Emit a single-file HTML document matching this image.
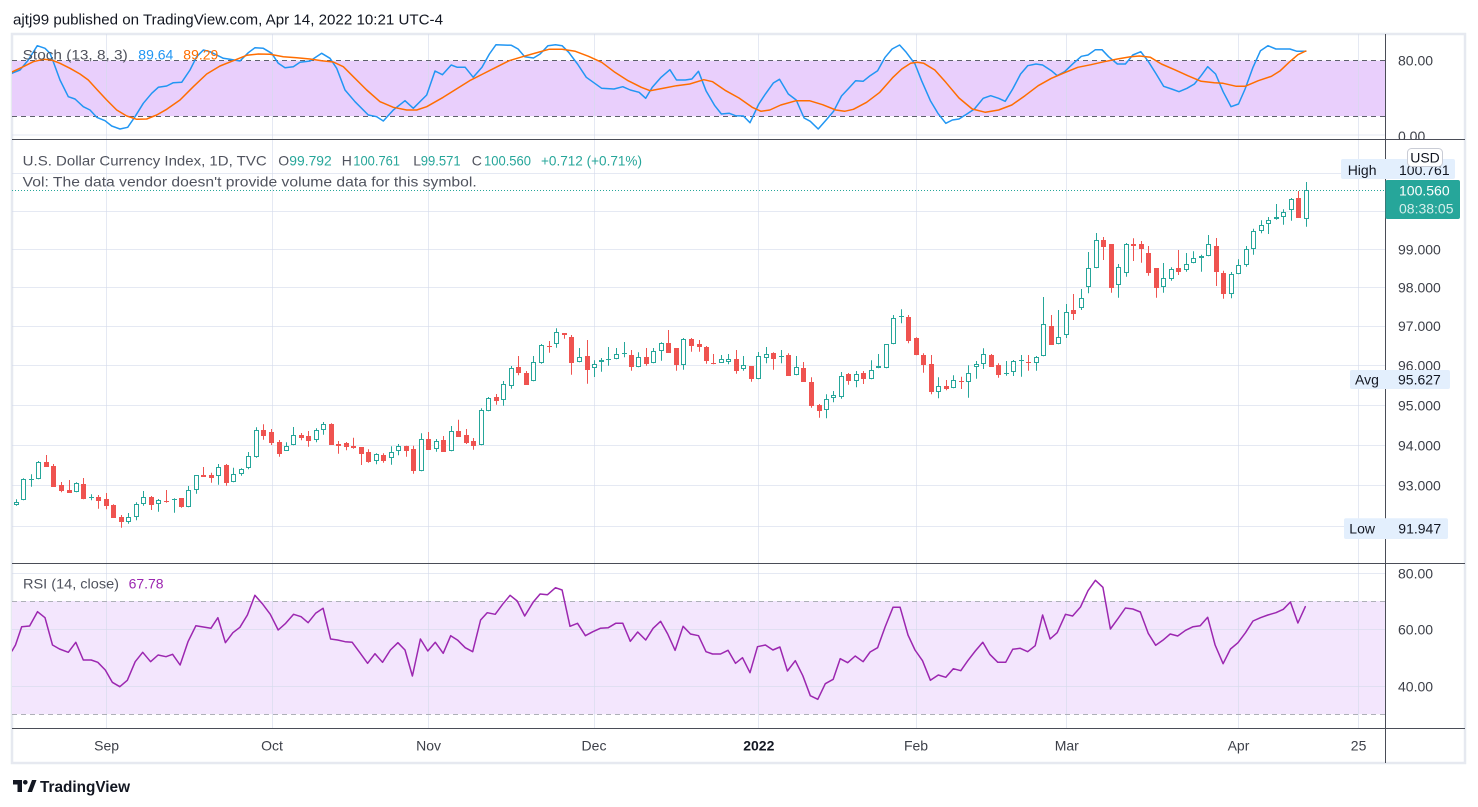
<!DOCTYPE html>
<html><head><meta charset="utf-8">
<style>
html,body{margin:0;padding:0;background:#fff;}
svg{display:block;font-family:"Liberation Sans",Arial,sans-serif;}
</style></head><body>
<svg id="c" width="1478" height="807" viewBox="0 0 1478 807" xmlns="http://www.w3.org/2000/svg">
<defs>
<clipPath id="cpStoch"><rect x="12" y="34" width="1373" height="105"/></clipPath>
<clipPath id="cpMain"><rect x="12" y="140" width="1373" height="423"/></clipPath>
<clipPath id="cpRsi"><rect x="12" y="564" width="1373" height="164"/></clipPath>
<clipPath id="cpStochAxis"><rect x="1386" y="34" width="80" height="105"/></clipPath>
</defs>
<rect width="1478" height="807" fill="#fff"/>
<text x="13" y="24.5" font-size="15" fill="#131722" textLength="430" lengthAdjust="spacingAndGlyphs">ajtj99 published on TradingView.com, Apr 14, 2022 10:21 UTC-4</text>

<!-- frame -->
<rect x="12" y="34" width="1453" height="729" fill="#fff" stroke="#e6e9f0" stroke-width="2.5"/>

<!-- bands -->
<rect x="12" y="60.7" width="1373" height="55.5" fill="#e9cffc"/>
<rect x="12" y="601" width="1373" height="113.3" fill="#f3e6fd"/>

<!-- grid -->
<g stroke="#d3dbeb" stroke-opacity="0.6" stroke-width="1">
<line x1="106.5" y1="34" x2="106.5" y2="728"/>
<line x1="272.5" y1="34" x2="272.5" y2="728"/>
<line x1="428.5" y1="34" x2="428.5" y2="728"/>
<line x1="594.5" y1="34" x2="594.5" y2="728"/>
<line x1="758.5" y1="34" x2="758.5" y2="728"/>
<line x1="916.5" y1="34" x2="916.5" y2="728"/>
<line x1="1066.5" y1="34" x2="1066.5" y2="728"/>
<line x1="1238.5" y1="34" x2="1238.5" y2="728"/>
<line x1="1358.5" y1="34" x2="1358.5" y2="728"/>
<line x1="12" y1="135" x2="1385" y2="135"/>
<line x1="12" y1="173.5" x2="1385" y2="173.5"/>
<line x1="12" y1="211.5" x2="1385" y2="211.5"/>
<line x1="12" y1="249.5" x2="1385" y2="249.5"/>
<line x1="12" y1="287.5" x2="1385" y2="287.5"/>
<line x1="12" y1="326.5" x2="1385" y2="326.5"/>
<line x1="12" y1="365.5" x2="1385" y2="365.5"/>
<line x1="12" y1="405.5" x2="1385" y2="405.5"/>
<line x1="12" y1="445.5" x2="1385" y2="445.5"/>
<line x1="12" y1="485.5" x2="1385" y2="485.5"/>
<line x1="12" y1="526.5" x2="1385" y2="526.5"/>
<line x1="12" y1="573.5" x2="1385" y2="573.5"/>
<line x1="12" y1="629.5" x2="1385" y2="629.5"/>
<line x1="12" y1="686.5" x2="1385" y2="686.5"/>
</g>

<!-- dashed band lines -->
<g stroke-dasharray="5 4" stroke-width="1">
<line x1="12" y1="60.5" x2="1385" y2="60.5" stroke="#5d606b"/>
<line x1="12" y1="116.5" x2="1385" y2="116.5" stroke="#5d606b"/>
<line x1="12" y1="601.5" x2="1385" y2="601.5" stroke="#aeb0b8"/>
<line x1="12" y1="714.5" x2="1385" y2="714.5" stroke="#aeb0b8"/>
</g>

<!-- price line -->
<line x1="12" y1="190.5" x2="1385" y2="190.5" stroke="#26a69a" stroke-width="1" stroke-dasharray="1 2"/>

<g id="stochLayer" clip-path="url(#cpStoch)"></g>
<g id="candles" clip-path="url(#cpMain)"></g>
<g id="rsiLayer" clip-path="url(#cpRsi)"></g>

<!-- separators -->
<g stroke="#4a4d57" stroke-width="1">
<line x1="12" y1="139.5" x2="1465" y2="139.5"/>
<line x1="12" y1="563.5" x2="1465" y2="563.5"/>
<line x1="12" y1="728.5" x2="1465" y2="728.5"/>
<line x1="1385.5" y1="34" x2="1385.5" y2="763"/>
</g>

<!-- legends -->
<g font-size="14">
<text x="22.7" y="59.5" fill="#50535e" textLength="105" lengthAdjust="spacingAndGlyphs">Stoch (13, 8, 3)</text>
<text x="138.3" y="59.5" fill="#2196f3" textLength="35" lengthAdjust="spacingAndGlyphs">89.64</text>
<text x="183.3" y="59.5" fill="#ff6d00" textLength="35" lengthAdjust="spacingAndGlyphs">89.29</text>

<text x="22.7" y="165.5" fill="#50535e" textLength="244" lengthAdjust="spacingAndGlyphs">U.S. Dollar Currency Index, 1D, TVC</text>
<text x="278.3" y="165.5" fill="#50535e">O</text>
<text x="289.3" y="165.5" fill="#26a69a" textLength="42.4" lengthAdjust="spacingAndGlyphs">99.792</text>
<text x="341.7" y="165.5" fill="#50535e">H</text>
<text x="353.3" y="165.5" fill="#26a69a" textLength="46.7" lengthAdjust="spacingAndGlyphs">100.761</text>
<text x="413.3" y="165.5" fill="#50535e">L</text>
<text x="420.7" y="165.5" fill="#26a69a" textLength="40" lengthAdjust="spacingAndGlyphs">99.571</text>
<text x="471.7" y="165.5" fill="#50535e">C</text>
<text x="484" y="165.5" fill="#26a69a" textLength="47" lengthAdjust="spacingAndGlyphs">100.560</text>
<text x="541" y="165.5" fill="#26a69a" textLength="101" lengthAdjust="spacingAndGlyphs">+0.712 (+0.71%)</text>
<text x="22.7" y="186.5" fill="#50535e" textLength="454" lengthAdjust="spacingAndGlyphs">Vol: The data vendor doesn't provide volume data for this symbol.</text>

<text x="23" y="588.5" fill="#50535e" textLength="96" lengthAdjust="spacingAndGlyphs">RSI (14, close)</text>
<text x="128.6" y="588.5" fill="#9c27b0" textLength="35" lengthAdjust="spacingAndGlyphs">67.78</text>
</g>

<!-- price axis labels -->
<g font-size="14" fill="#3d4049">
<g clip-path="url(#cpStochAxis)">
<text x="1398" y="65.7">80.00</text>
<text x="1398" y="141">0.00</text>
</g>
<text x="1398" y="254.3">99.000</text>
<text x="1398" y="292.3">98.000</text>
<text x="1398" y="331">97.000</text>
<text x="1398" y="370.3">96.000</text>
<text x="1398" y="410.3">95.000</text>
<text x="1398" y="450.3">94.000</text>
<text x="1398" y="490.3">93.000</text>
<text x="1398" y="578.3">80.00</text>
<text x="1398" y="634.3">60.00</text>
<text x="1398" y="691.7">40.00</text>
</g>

<!-- High label -->
<rect x="1341" y="159" width="114" height="20" rx="2" fill="#e3effd"/>
<text x="1347.7" y="175" font-size="14" fill="#131722">High</text>
<text x="1399" y="175" font-size="14" fill="#131722">100.761</text>
<!-- USD box -->
<rect x="1407.5" y="148.5" width="35" height="18" rx="4" fill="#fff" stroke="#c9ccd5"/>
<text x="1425" y="162.5" font-size="14" fill="#131722" text-anchor="middle">USD</text>
<!-- price label -->
<rect x="1385.5" y="180" width="74.5" height="39" rx="2" fill="#26a69a"/>
<text x="1399" y="195.7" font-size="14" fill="#fff">100.560</text>
<text x="1399" y="213.3" font-size="14" fill="#fff" fill-opacity="0.8">08:38:05</text>
<!-- Avg -->
<rect x="1350" y="370" width="100" height="19" rx="2" fill="#e3effd"/>
<text x="1355" y="384.5" font-size="14" fill="#131722">Avg</text>
<text x="1398" y="384.5" font-size="14" fill="#131722">95.627</text>
<!-- Low -->
<rect x="1344" y="518.3" width="104" height="20.7" rx="2" fill="#e3effd"/>
<text x="1349.3" y="533.5" font-size="14" fill="#131722">Low</text>
<text x="1398.3" y="533.5" font-size="14" fill="#131722">91.947</text>

<!-- time axis -->
<g font-size="14" fill="#3d4049" text-anchor="middle">
<text x="106.6" y="750.5">Sep</text>
<text x="272" y="750.5">Oct</text>
<text x="428.6" y="750.5">Nov</text>
<text x="594" y="750.5">Dec</text>
<text x="758.8" y="750.5" font-weight="bold" fill="#131722">2022</text>
<text x="916" y="750.5">Feb</text>
<text x="1066.8" y="750.5">Mar</text>
<text x="1238.5" y="750.5">Apr</text>
<text x="1358.6" y="750.5">25</text>
</g>

<!-- logo -->
<g fill="#131722">
<path d="M13 780 H22 V792 H17.5 V784.5 H13 Z"/>
<circle cx="25.3" cy="782.3" r="2.3"/>
<path d="M27.5 792 L32 780 H36.5 L32 792 Z"/>
</g>
<text x="40" y="792" font-size="15.5" font-weight="bold" fill="#131722" textLength="90" lengthAdjust="spacingAndGlyphs">TradingView</text>
</svg>

<script>
(function(){
var NS="http://www.w3.org/2000/svg";
function el(tag,attrs,parent){var e=document.createElementNS(NS,tag);for(var k in attrs)e.setAttribute(k,attrs[k]);parent.appendChild(e);return e;}
var cl=document.getElementById('candles');
var segs=[
[12,415,[[13,260,270,253,272,1],[34,193,256,190,256,1],[58,192,194,178,215,1],[79,142,193,138,193,1],[103,142,155,120,155,0],[124,153,215,147,215,0],[148,210,227,201,232,0],[170,225,233,195,233,0],[193,205,232,202,232,1],[214,207,251,189,253,0],[238,245,250,238,256,1],[259,246,257,240,281,0],[283,252,272,234,283,0],[304,270,308,268,308,0],[328,306,320,300,338,0],[349,307,320,294,326,1],[373,267,307,262,316,1],[394,247,268,228,272,1],[418,246,269,243,285,0],[439,256,268,252,290,1],[463,258,261,225,263,0],[485,252,256,250,293,1],[508,249,275,249,278,0],[529,226,277,213,277,1],[553,181,226,181,236,1],[574,180,185,156,185,0],[598,180,188,173,203,0],[619,157,184,147,209,1],[643,150,203,147,212,0],[664,178,202,158,202,1],[688,163,178,160,182,1],[709,124,160,111,163,1],[733,46,126,37,128,1],[754,45,62,28,74,0],[778,51,83,42,90,0],[800,81,117,75,125,0]]],
[270,320,[[48,379,393,367,393,1],[70,346,376,321,376,1],[93,345,353,339,361,0],[115,348,362,333,380,0],[139,331,361,325,367,1],[160,313,331,306,344,1],[184,312,374,310,374,0],[205,372,377,363,401,0],[229,369,380,366,391,0],[250,377,384,353,386,0],[274,381,401,381,435,0],[295,396,425,388,428,0],[319,403,424,400,433,1],[340,405,422,400,428,0],[364,397,415,379,434,1],[385,379,393,372,406,1],[409,378,392,377,410,0],[430,387,452,377,461,0],[454,358,452,340,454,1],[475,357,389,336,389,0],[499,364,386,357,395,1],[520,360,395,348,395,0],[544,334,392,318,394,1],[565,333,350,299,350,0],[589,346,368,327,372,0],[610,364,377,354,389,0],[634,271,376,265,376,1],[655,235,274,231,274,1],[679,231,242,222,254,0],[700,193,241,183,257,1],[724,145,199,138,206,1],[745,141,158,108,166,0],[769,159,194,153,194,0],[790,127,184,108,184,1]]],
[530,320,[[34,75,129,72,131,1],[56,78,82,63,98,0],[79,37,73,25,83,1],[101,40,44,40,56,0],[124,51,128,45,164,0],[146,112,127,84,127,1],[170,108,149,60,191,0],[191,133,145,121,171,1],[214,120,127,114,155,1],[235,118,121,81,137,1],[259,103,118,84,118,1],[281,99,101,66,112,1],[304,105,142,90,152,0],[325,112,142,97,142,1],[349,111,132,84,137,0],[370,94,130,84,130,1],[394,70,94,67,122,1],[415,69,98,30,98,0],[439,84,136,84,152,0],[460,58,136,54,149,1],[484,57,77,54,95,0],[506,72,80,60,95,0],[529,81,122,78,131,0],[550,129,133,102,133,0],[574,118,128,105,128,1],[595,118,127,102,133,1],[619,117,152,90,161,0],[640,136,148,108,152,1],[664,138,176,138,185,0],[685,109,176,96,178,1],[709,103,115,81,130,1],[730,99,116,97,149,0],[754,108,111,90,130,1],[775,105,167,100,167,0],[799,142,166,108,166,1]]],
[790,300,[[40,204,245,186,245,0],[64,246,317,232,323,0],[86,316,332,312,353,0],[109,296,331,283,355,1],[130,286,295,273,307,1],[154,229,290,216,296,1],[175,222,242,219,254,0],[199,223,244,213,262,1],[220,219,238,213,252,0],[244,211,238,181,238,1],[265,199,205,162,205,1],[289,133,203,133,205,1],[310,55,133,45,133,1],[334,48,52,28,70,1],[355,52,122,45,130,0],[379,115,164,112,166,0],[400,166,196,160,218,0],[424,192,275,165,283,0],[445,259,276,232,295,1],[469,259,266,240,271,0],[490,241,265,226,265,1],[514,243,247,230,267,0],[535,219,247,196,293,1],[559,193,202,183,236,1],[580,163,192,145,207,1],[604,165,200,162,200,0],[625,196,224,190,233,0],[649,219,222,183,227,1],[670,184,217,180,228,1],[694,181,184,165,230,1],[715,185,187,165,212,0],[739,172,190,168,212,1],[760,73,169,-9,169,1],[784,78,134,45,134,0],[805,110,133,30,133,1]]],
[1050,180,[[48,396,465,372,474,1],[70,390,402,342,420,0],[94,355,385,327,390,1],[115,265,320,216,340,1],[139,181,265,159,265,1],[160,181,200,171,240,0],[184,192,323,192,338,0],[205,262,316,252,353,1],[229,193,280,189,290,1],[250,192,197,175,243,0],[274,193,206,183,248,0],[295,219,278,198,287,0],[319,264,323,264,353,0],[340,295,322,249,338,1],[364,268,296,262,302,1],[385,265,275,210,285,0],[409,253,269,219,275,1],[430,235,250,214,250,1],[454,229,235,224,275,1],[475,192,229,165,229,1],[499,198,275,174,318,0],[520,279,341,272,356,0],[544,283,343,276,355,1],[565,256,283,238,283,1],[589,208,256,198,260,1],[610,153,208,146,224,1],[634,135,154,121,160,1],[655,121,133,111,162,1],[679,112,116,72,119,1],[700,97,112,88,134,1],[724,58,91,54,122,1],[745,55,113,33,113,0],[769,31,118,6,140,1]]]
];
segs.forEach(function(s){
  var ox=s[0],oy=s[1];
  s[2].forEach(function(c){
    var x=Math.round(ox+c[0]/3);
    var col=c[5]?'#26a69a':'#ef5350';
    var BT=Math.round(oy+c[1]/3),BB=Math.round(oy+c[2]/3),WT=oy+c[3]/3,WB=oy+c[4]/3;
    el('line',{x1:x+0.5,x2:x+0.5,y1:WT.toFixed(1),y2:WB.toFixed(1),stroke:col,'stroke-width':1},cl);
    var h=BB-BT;
    if(c[5] && h>=3){
      el('rect',{x:x-1.5,y:BT+0.5,width:4,height:h-1,fill:'#fff',stroke:col,'stroke-width':1},cl);
    } else {
      el('rect',{x:x-2,y:BT,width:5,height:Math.max(h,1),fill:col},cl);
    }
  });
});

function poly(parts,color,w,layer){
  var pts=[];
  parts.forEach(function(p){
    var ox=p[0],oy=p[1],sx=p[2],sy=p[3],arr=p[4],lo=p[5],hi=p[6];
    for(var i=0;i<arr.length;i+=2){
      var x=ox+arr[i]/sx,y=oy+arr[i+1]/sy;
      if(x>=lo&&x<hi)pts.push(x.toFixed(1)+','+y.toFixed(1));
    }
  });
  el('polyline',{points:pts.join(' '),fill:'none',stroke:color,'stroke-width':w,'stroke-linejoin':'round','stroke-linecap':'round'},layer);
}
var SX=2.2725;
var k1=[36,220,40,218,60,210,85,180,112,137,135,145,150,160,160,185,180,240,205,290,225,297,250,320,270,330,290,352,315,362,335,378,360,387,383,382,405,350,430,310,455,280,475,262,500,258,520,248,545,247,570,210,590,170,610,150,630,155,650,165,670,175,690,178,720,183,745,158,765,143,790,145,815,160,835,190,855,203,880,200,900,187,930,183,965,160,990,175,1010,205,1035,270,1065,305,1105,345,1130,350,1150,363,1180,330,1215,302,1240,325,1280,285,1305,213];
var k9=[978,122,998,93,1012,100,1030,100,1048,130,1068,100,1085,60,1100,32,1135,34,1150,45,1165,68,1185,72,1200,60,1218,35,1235,32,1250,35,1265,55,1285,90,1305,130,1340,163,1368,165,1388,158,1405,168,1425,175,1440,193,1455,160,1475,130,1495,107,1510,138,1530,138,1545,135,1560,112,1568,130];
var k10=[0,125,8,112,25,170,45,215,60,240,78,238,92,245,110,246,125,266,145,210,160,180,178,147,192,136,212,180,230,198,248,252,262,262,280,285,300,255,315,232,333,186,350,162,365,140,382,142,398,125,415,110,432,70,448,45,465,33,480,55,500,90,515,140,535,200,552,238,570,268,585,258,600,255,618,240,635,225,655,193,672,185,690,193,705,202,722,165,740,120,756,95,775,90,790,93,810,110,823,125,840,113,860,88,878,67,893,63,910,47,925,47,940,68,960,90,978,90,995,63,1013,53,1030,82,1048,120,1065,157,1083,165,1100,173,1118,163,1135,150,1150,125,1165,98,1183,120,1200,173,1218,218,1235,210,1250,165,1268,100,1285,50,1302,35,1320,45,1340,45,1352,45,1368,52,1388,52];
var d1=[36,216,70,200,100,185,130,178,155,180,180,190,210,205,240,222,265,240,290,268,320,300,350,330,380,348,410,358,440,357,470,345,500,328,540,300,580,260,620,222,660,198,700,182,740,166,775,162,810,163,850,170,890,173,930,177,965,182,1000,186,1030,200,1060,230,1100,270,1140,305,1180,322,1220,330,1250,330,1280,320,1320,295];
var d9=[980,190,1010,165,1040,140,1070,120,1100,100,1130,80,1160,68,1190,57,1220,46,1250,46,1280,52,1310,67,1340,85,1370,115,1400,140,1430,160,1450,170,1480,163,1510,155,1540,150,1568,137];
var d10=[0,143,20,137,40,143,70,170,100,192,130,220,150,232,170,228,195,213,230,200,260,200,290,212,320,228,340,232,360,226,390,205,420,175,450,130,470,105,490,88,505,85,520,88,545,108,570,145,600,192,630,225,660,235,690,228,720,213,750,185,780,155,810,133,840,116,870,100,900,92,930,83,960,75,990,68,1010,66,1035,70,1060,90,1090,107,1120,125,1150,142,1180,146,1200,148,1230,157,1250,157,1280,140,1310,127,1330,110,1350,85,1370,62,1388,51];
var sl=document.getElementById('stochLayer');
poly([[0,0,3,3,k1,0,440],[12,34,SX,3,k9,440,697],[695,34,SX,3,k10,697,2000]],'#2196f3',1.5,sl);
poly([[0,0,3,3,d1,0,440],[12,34,SX,3,d9,440,697],[695,34,SX,3,d10,697,2000]],'#ff6d00',1.5,sl);

var r11=[0,258,8,240,22,185,40,183,58,140,75,158,92,240,108,252,128,262,145,232,162,285,180,285,195,292,212,315,228,352,245,365,262,346,280,290,297,262,315,290,332,270,350,275,365,268,382,300,400,230,418,182,435,186,452,190,468,158,485,233,502,203,518,187,535,150,552,91,570,118,587,148,605,195,622,175,640,148,657,155,673,173,690,145,707,130,724,222,740,225,757,230,773,232,790,262,808,295,825,266,842,292,860,255,877,233,893,255,910,333,928,222,945,258,962,232,980,265,997,212,1013,226,1030,248,1047,260,1065,165,1080,143,1098,148,1115,118,1132,91,1148,108,1165,153,1185,110,1200,87,1217,89,1235,68,1250,75,1268,184,1285,175,1303,212,1320,200,1337,190,1355,188,1372,175,1388,175,1405,229,1422,201,1440,225,1457,190,1474,169,1490,207,1507,256,1525,184,1542,207,1558,210,1568,240];
var r12=[0,210,8,212,25,260,40,267,58,267,75,256,92,295,108,278,125,323,142,245,160,240,177,255,193,246,210,318,228,287,245,332,262,392,279,403,296,356,314,343,330,281,347,293,364,273,382,290,398,261,415,248,432,186,450,127,466,127,484,210,500,255,517,287,535,346,553,330,570,337,587,311,604,317,620,287,637,258,654,232,670,268,688,292,706,292,722,253,739,250,756,260,773,242,790,150,807,222,823,203,842,148,858,153,876,126,893,77,910,46,927,67,944,192,961,161,978,129,995,132,1012,141,1030,205,1047,241,1063,226,1080,207,1097,213,1115,196,1132,185,1148,182,1165,157,1182,240,1200,296,1217,252,1234,233,1251,203,1268,168,1285,158,1302,150,1320,143,1337,133,1353,111,1370,174,1387,125];
var rl=document.getElementById('rsiLayer');
poly([[12,565,SX,3,r11,0,697],[695,565,SX,3,r12,697,2000]],'#9c27b0',1.5,rl);
})();
</script>
</body></html>
